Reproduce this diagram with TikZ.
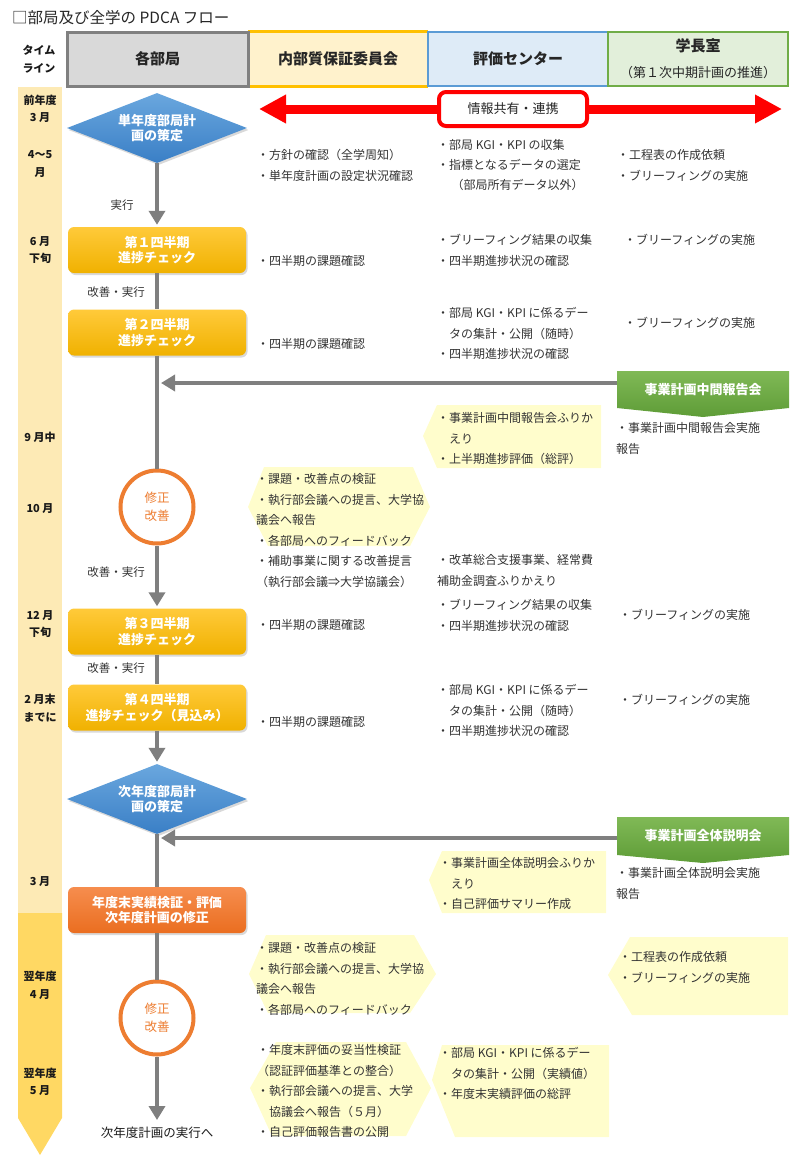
\documentclass[tikz,border=0pt]{standalone}
\usepackage{fontspec}
\setmainfont{Noto Sans CJK JP}
\usetikzlibrary{arrows.meta,shapes.geometric,shadows,calc}

\definecolor{txt}{HTML}{333333}
\definecolor{flowgray}{HTML}{7F7F7F}
\definecolor{hgray}{HTML}{D9D9D9}
\definecolor{hgrayb}{HTML}{808080}
\definecolor{hyel}{HTML}{FFF2CC}
\definecolor{hyelb}{HTML}{FFC000}
\definecolor{hblue}{HTML}{DEEBF7}
\definecolor{hblueb}{HTML}{5B9BD5}
\definecolor{hgreen}{HTML}{E2EFDA}
\definecolor{hgreenb}{HTML}{70AD47}
\definecolor{tlpale}{HTML}{FDEAB5}
\definecolor{tldark}{HTML}{FFD863}
\definecolor{callout}{HTML}{FFFDCC}
\definecolor{gold1}{HTML}{FFCA3A}
\definecolor{gold2}{HTML}{F0B100}
\definecolor{blue1}{HTML}{6AA7DE}
\definecolor{blue2}{HTML}{3A7FC6}
\definecolor{org1}{HTML}{F68D4E}
\definecolor{org2}{HTML}{EA6E20}
\definecolor{orc}{HTML}{ED7D31}
\definecolor{grn1}{HTML}{80B956}
\definecolor{grn2}{HTML}{5E9C37}
\definecolor{redc}{HTML}{FF0000}

\begin{document}
\begin{tikzpicture}[x=1pt,y=-1pt,
  bt/.style={font=\fontsize{12}{20.5}\selectfont, text=txt, align=left, anchor=north west, inner sep=0pt},
  tl/.style={font=\fontsize{11}{17.5}\selectfont\bfseries, text=black!90, align=center, inner sep=0pt},
  lab/.style={font=\fontsize{11.5}{13}\selectfont, text=txt, inner sep=0pt},
  hd/.style={minimum width=180, minimum height=54, inner sep=0pt, font=\fontsize{15}{17}\selectfont\bfseries, text=black!85},
  shd/.style={drop shadow={opacity=.3, shadow xshift=1.5pt, shadow yshift=-2pt}},
  qbox/.style={rounded corners=6pt, minimum width=178, minimum height=46, inner sep=0pt, top color=gold1, bottom color=gold2, text=white, font=\fontsize{13}{15.5}\selectfont\bfseries, align=center, shd},
  dia/.style={diamond, aspect=2.6, minimum width=180, minimum height=70, inner sep=0pt, top color=blue1, bottom color=blue2, text=white, font=\fontsize{13}{15}\selectfont\bfseries, align=center, shd},
  circ/.style={circle, minimum size=73, inner sep=0pt, draw=orc, line width=4pt, fill=white, text=orc, font=\fontsize{12.5}{17.5}\selectfont, align=center},
  gtext/.style={font=\fontsize{13}{15}\selectfont\bfseries, text=white, minimum width=172, minimum height=37, inner sep=0pt},
  flow/.style={draw=flowgray, line width=4pt},
  flowarr/.style={flow, -{Triangle[length=14pt,width=16pt]}, shorten >=2pt},
]
\useasboundingbox (0,0) rectangle (802,1165);

% timeline strip
\fill[tlpale] (18,87) rectangle (62,913);
\fill[tldark] (18,913) -- (62,913) -- (62,1118) -- (40,1155) -- (18,1118) -- cycle;

% title
\node[anchor=west, inner sep=0pt, font=\fontsize{15.5}{17}\selectfont, text=black!85] (title) at (12,18) {□部局及び全学の PDCA フロー};

% header
\node[tl] (tlh) at (39,59) {タイム\\ライン};
\node[hd, fill=hyel] (h2) at (338,59) {内部質保証委員会};
\draw[hyelb, line width=3pt] (h2.north west) -- (h2.north east) (h2.south west) -- (h2.south east);
\node[hd, fill=hgray, draw=hgrayb, line width=3pt, minimum width=181] (h1) at (157.5,59) {各部局};
\node[hd, fill=hblue, draw=hblueb, line width=2.5pt] (h3) at (518,59) {評価センター};
\node[hd, fill=hgreen, draw=hgreenb, line width=2.5pt] (h4) at (698,59) {};
\node[font=\fontsize{15}{17}\selectfont\bfseries, text=black!85, inner sep=0pt] (h4a) at (698,46) {学長室};
\node[font=\fontsize{13}{15}\selectfont, text=black!85, inner sep=0pt] (h4b) at (698,73) {（第１次中期計画の推進）};

% timeline labels
\node[tl] (t1) at (40,109) {前年度\\3 月};
\node[tl] (t2) at (40,164) {4～5\\月};
\node[tl] (t3) at (40,250) {6 月\\下旬};
\node[tl] (t4) at (40,437) {9 月中};
\node[tl] (t5) at (40,509) {10 月};
\node[tl] (t6) at (40,624) {12 月\\下旬};
\node[tl] (t7) at (40,708) {2 月末\\までに};
\node[tl] (t8) at (40,882) {3 月};
\node[tl] (t9) at (40,985.5) {翌年度\\4 月};
\node[tl] (t10) at (40,1082) {翌年度\\5 月};

% red double arrow with box
\coordinate (ra1) at (259,109);
\coordinate (ra2) at (782,109);
\draw[redc, line width=9pt, {Triangle[length=27pt,width=27pt]}-{Triangle[length=27pt,width=27pt]}] (ra1) -- (ra2);
\node[draw=redc, line width=4pt, fill=white, rounded corners=7pt, minimum width=148, minimum height=34, font=\fontsize{13}{15}\selectfont, text=black!85] (info) at (513,109) {情報共有・連携};

% yellow callouts
\fill[callout] (423,436) -- (437,405) -- (601,405) -- (601,468) -- (437,468) -- cycle;
\fill[callout] (248,507) -- (264,467) -- (413,467) -- (430,507) -- (410,546) -- (268,546) -- cycle;
\fill[callout] (429,880) -- (442,851) -- (606,851) -- (606,913) -- (442,913) -- cycle;
\fill[callout] (249,974) -- (266,935) -- (414,935) -- (436,974) -- (410,1013) -- (268,1013) -- cycle;
\fill[callout] (608,975) -- (630,937) -- (788,937) -- (788,1015) -- (632,1015) -- cycle;
\fill[callout] (432,1080) -- (442,1045) -- (609,1045) -- (609,1137) -- (455,1137) -- cycle;
\fill[callout] (250,1088) -- (276,1042) -- (406,1042) -- (431,1088) -- (406,1136) -- (272,1136) -- cycle;

% green banners
\shade[top color=grn1, bottom color=grn2] (617,371) -- (789,371) -- (789,408) -- (703,417) -- (617,408) -- cycle;
\node[gtext] (g1) at (703,389.5) {事業計画中間報告会};
\shade[top color=grn1, bottom color=grn2] (617,817) -- (789,817) -- (789,855) -- (703,863) -- (617,855) -- cycle;
\node[gtext] (g2) at (703,836) {事業計画全体説明会};

% main flow nodes
\node[dia] (d1) at (157,128) {単年度部局計\\画の策定};
\node[qbox] (q1) at (157,250) {第１四半期\\進捗チェック};
\node[qbox] (q2) at (157,332.5) {第２四半期\\進捗チェック};
\node[circ] (c1) at (157,507) {修正\\改善};
\node[qbox] (q3) at (157,631.5) {第３四半期\\進捗チェック};
\node[qbox] (q4) at (157,707.5) {第４四半期\\進捗チェック（見込み）};
\node[dia] (d2) at (157,799) {次年度部局計\\画の策定};
\node[qbox, top color=org1, bottom color=org2] (ob) at (157,910) {年度末実績検証・評価\\次年度計画の修正};
\node[circ] (c2) at (157,1018) {修正\\改善};
\coordinate (fin) at (157,1120);
\node[font=\fontsize{12.5}{14}\selectfont, text=black!90, inner sep=0pt] (next) at (157,1133) {次年度計画の実行へ};

% main flow connectors
\draw[flowarr] (d1.south) -- (q1.north);
\draw[flow] (q1.south) -- (q2.north);
\draw[flow] (q2.south) -- (c1.north);
\draw[flowarr] (c1.south) -- (q3.north);
\draw[flow] (q3.south) -- (q4.north);
\draw[flowarr] (q4.south) -- (d2.north);
\draw[flow] (d2.south) -- (ob.north);
\draw[flow] (ob.south) -- (c2.north);
\draw[flowarr, shorten >=0pt] (c2.south) -- (fin);

\coordinate (j1) at (161,383);
\draw[flowarr, shorten >=0pt] (g1.west |- j1) -- (j1);
\coordinate (j2) at (161,838);
\draw[flowarr, shorten >=0pt] (g2.west |- j2) -- (j2);

% flow labels
\node[lab] (l1) at (122,205) {実行};
\node[lab] (l2) at (116,292) {改善・実行};
\node[lab] (l3) at (116,572) {改善・実行};
\node[lab] (l4) at (116,668) {改善・実行};

% text blocks
\node[bt] (b01) at (257,149.5) {・方針の確認（全学周知）\\・単年度計画の設定状況確認};
\node[bt] (b02) at (437,139.5) {・部局 KGI・KPI の収集\\[-0.5pt]・指標となるデータの選定\\[-0.5pt]\hspace*{1.2em}（部局所有データ以外）};
\node[bt] (b03) at (617,149.5) {・工程表の作成依頼\\・ブリーフィングの実施};

\node[bt] (b04) at (257,255.5) {・四半期の課題確認};
\node[bt] (b05) at (437,234.5) {・ブリーフィング結果の収集\\・四半期進捗状況の確認};
\node[bt] (b06) at (624,234.5) {・ブリーフィングの実施};

\node[bt] (b07) at (257,338.5) {・四半期の課題確認};
\node[bt] (b08) at (437,307.5) {・部局 KGI・KPI に係るデー\\\hspace*{1em}タの集計・公開（随時）\\・四半期進捗状況の確認};
\node[bt] (b09) at (624,317.5) {・ブリーフィングの実施};

\node[bt] (b10) at (616,422.5) {・事業計画中間報告会実施\\報告};
\node[bt] (b11) at (437,412.5) {・事業計画中間報告会ふりか\\\hspace*{1em}えり\\・上半期進捗評価（総評）};

\node[bt] (b12) at (256,473.5) {・課題・改善点の検証\\・執行部会議への提言、大学協\\議会へ報告\\・各部局へのフィードバック\\・補助事業に関する改善提言\\（執行部会議⇒大学協議会）};
\node[bt] (b13) at (437,554.5) {・改革総合支援事業、経常費\\補助金調査ふりかえり};

\node[bt] (b14) at (257,619.5) {・四半期の課題確認};
\node[bt] (b15) at (437,599.5) {・ブリーフィング結果の収集\\・四半期進捗状況の確認};
\node[bt] (b16) at (619,609.5) {・ブリーフィングの実施};

\node[bt] (b17) at (257,716.5) {・四半期の課題確認};
\node[bt] (b18) at (437,684.5) {・部局 KGI・KPI に係るデー\\\hspace*{1em}タの集計・公開（随時）\\・四半期進捗状況の確認};
\node[bt] (b19) at (619,694.5) {・ブリーフィングの実施};

\node[bt] (b20) at (616,867.5) {・事業計画全体説明会実施\\報告};
\node[bt] (b21) at (439,857.5) {・事業計画全体説明会ふりか\\\hspace*{1em}えり\\・自己評価サマリー作成};

\node[bt] (b22) at (256,942.5) {・課題・改善点の検証\\・執行部会議への提言、大学協\\議会へ報告\\・各部局へのフィードバック};
\node[bt] (b23) at (619,951.5) {・工程表の作成依頼\\・ブリーフィングの実施};

\node[bt] (b24) at (257,1044.5) {・年度末評価の妥当性検証\\（認証評価基準との整合）\\・執行部会議への提言、大学\\\hspace*{1em}協議会へ報告（５月）\\・自己評価報告書の公開};
\node[bt] (b25) at (439,1047.5) {・部局 KGI・KPI に係るデー\\\hspace*{1em}タの集計・公開（実績値）\\・年度末実績評価の総評};

\end{tikzpicture}
\end{document}
